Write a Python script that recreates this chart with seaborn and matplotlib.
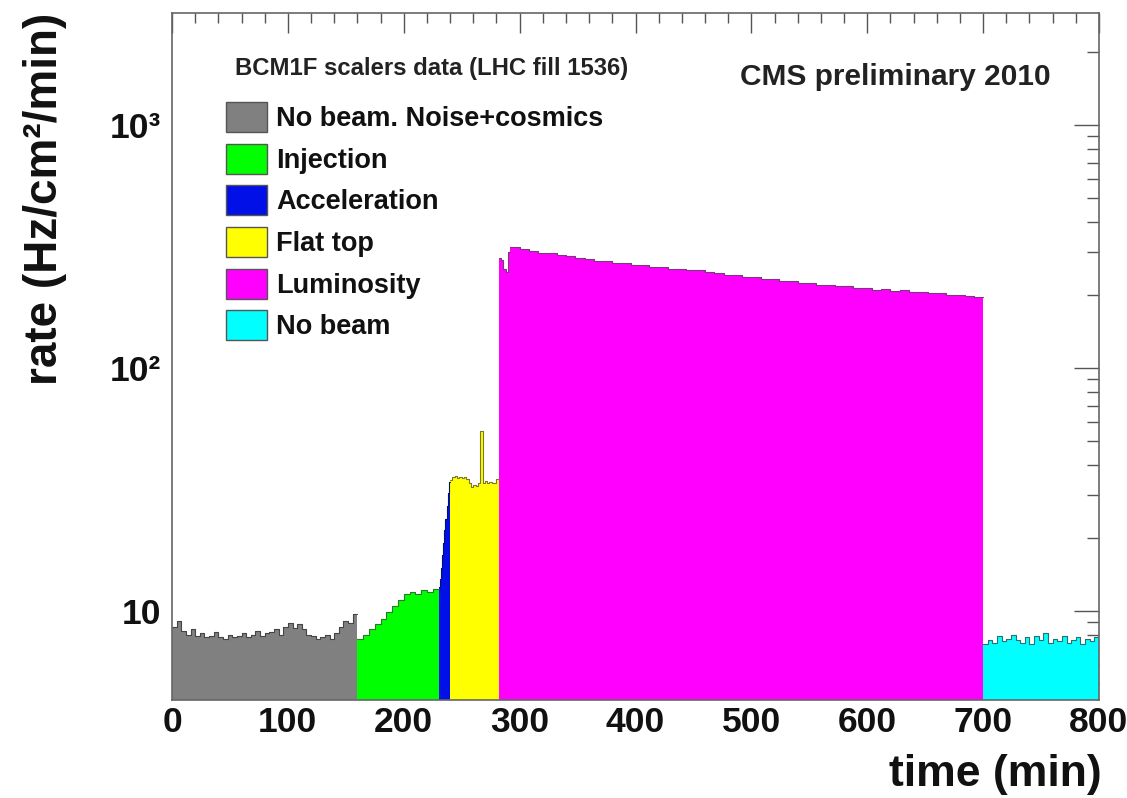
import numpy as np
import pandas as pd
import matplotlib
matplotlib.use("Agg")
import matplotlib.pyplot as plt
import seaborn as sns
from matplotlib.patches import Patch
from matplotlib.ticker import FixedLocator, FixedFormatter, NullFormatter, MultipleLocator, LogLocator

# ---------------- data (rates in Hz/cm^2/min, time in min) ----------------
phase_names = ["No beam. Noise+cosmics", "Injection", "Acceleration",
               "Flat top", "Luminosity", "No beam"]
phase_colors = ["#808080", "#00ff00", "#0010e6", "#ffff00", "#ff00ff", "#00ffff"]
phase_edge_colors = ["#454545", "#2a7a2a", "#00106e", "#7a7a2a", "#7a3a7a", "#2a7070"]

# No beam (noise + cosmics): 0-160 min, 4-min bins
noise_start, noise_width = 0, 4
noise_rate = [8.6, 9.1, 8.3, 8.0, 8.4, 7.9, 8.1, 7.8, 7.9, 8.2,
              7.8, 7.7, 8.0, 7.8, 7.9, 8.1, 7.8, 8.0, 8.3, 7.9,
              8.1, 8.2, 8.4, 8.0, 8.6, 8.9, 8.5, 8.8, 8.4, 8.0,
              7.9, 7.7, 7.8, 8.0, 7.7, 8.1, 8.6, 9.1, 8.9, 9.7]

# Injection: 160-230 min, 5-min bins
inj_start, inj_width = 160, 5
inj_rate = [7.7, 8.0, 8.4, 8.8, 9.3, 9.9, 10.5, 11.1, 11.7, 12.0,
            11.8, 12.2, 12.0, 12.3]

# Acceleration: 230-240 min, 1-min bins
acc_start, acc_width = 230, 1
acc_rate = [12.5, 13.5, 15.0, 17.0, 19.0, 21.5, 24.0, 27.0, 30.5, 34.0]

# Flat top: 240-282 min, 2-min bins
flat_start, flat_width = 240, 2
flat_rate = [34.5, 35.5, 35.8, 35.4, 35.6, 35.2, 35.6, 35.0, 33.5, 32.5,
             33.0, 32.8, 33.5, 55.0, 33.8, 34.2, 33.6, 34.0, 33.5, 33.8, 35.0]

# Luminosity: first part 282-292 min (2-min bins), then 292-700 min (8-min bins)
lumi_head_start, lumi_head_width = 282, 2
lumi_head_rate = [283, 280, 255, 248, 300]
lumi_start, lumi_width = 292, 8
lumi_rate = [316, 309, 305, 299, 297, 291, 289, 283, 282, 277,
             276, 271, 270, 265, 265, 260, 260, 256, 257, 253,
             253, 248, 247, 242, 242, 237, 237, 233, 232, 228,
             229, 224, 224, 220, 220, 217, 217, 213, 214, 210,
             211, 208, 209, 205, 206, 203, 203, 200, 201, 198, 197]

# No beam: 700-800 min, 4-min bins
nob_start, nob_width = 700, 4
nob_rate = [7.3, 7.6, 7.4, 7.9, 7.5, 7.7, 8.0, 7.6, 7.4, 7.8,
            7.3, 7.9, 7.6, 8.1, 7.4, 7.7, 7.5, 7.9, 7.4, 7.6,
            7.8, 7.3, 7.7, 7.5, 7.8]

x_ticks = [0, 100, 200, 300, 400, 500, 600, 700, 800]
y_ticks = [10, 100, 1000]
y_tick_labels = ["10", "10\u00b2", "10\u00b3"]

# segments: (phase index, start, bin width, rates)
segments = [
    (0, noise_start, noise_width, noise_rate),
    (1, inj_start, inj_width, inj_rate),
    (2, acc_start, acc_width, acc_rate),
    (3, flat_start, flat_width, flat_rate),
    (4, lumi_head_start, lumi_head_width, lumi_head_rate),
    (4, lumi_start, lumi_width, lumi_rate),
    (5, nob_start, nob_width, nob_rate),
]

# ---------------- figure ----------------
sns.set_theme(style="white")
plt.rcParams["font.family"] = ["Liberation Sans", "DejaVu Sans"]
plt.rcParams["font.weight"] = "bold"

fig = plt.figure(figsize=(11.27, 7.98), dpi=100)
ax = fig.add_axes([172 / 1127, 1 - 700 / 798, (1099 - 172) / 1127, (700 - 13) / 798])
ax.set_yscale("log")

for idx, start, width, rates in segments:
    n = len(rates)
    edges = start + width * np.arange(n + 1)
    centers = start + width * (np.arange(n) + 0.5)
    df = pd.DataFrame({"time": centers, "rate": np.asarray(rates, dtype=float)})
    sns.histplot(data=df, x="time", weights="rate", binwidth=width,
                 binrange=(start, start + width * n), element="step",
                 fill=True, color=phase_colors[idx], alpha=1.0, linewidth=0,
                 ax=ax, stat="count")
    sns.lineplot(x=list(edges), y=list(rates) + [rates[-1]], drawstyle="steps-post",
                 estimator=None, sort=False, color=phase_edge_colors[idx],
                 linewidth=0.8, ax=ax)

ax.set_xlim(0, 800)
ax.set_ylim(4.3, 2900)
ax.set_xlabel("")
ax.set_ylabel("")

# ticks, ROOT-like
ax.xaxis.set_major_locator(FixedLocator(x_ticks))
ax.xaxis.set_minor_locator(MultipleLocator(20))
ax.xaxis.set_major_formatter(FixedFormatter([str(t) for t in x_ticks]))
ax.yaxis.set_major_locator(FixedLocator(y_ticks))
ax.yaxis.set_major_formatter(FixedFormatter(y_tick_labels))
ax.yaxis.set_minor_locator(LogLocator(base=10, subs=np.arange(2, 10)))
ax.yaxis.set_minor_formatter(NullFormatter())
ax.tick_params(axis="both", which="both", direction="in", top=True, right=True,
               color="#555555", width=1.0)
ax.tick_params(axis="x", which="major", length=14.5, labelsize=25.5, pad=4)
ax.tick_params(axis="x", which="minor", length=7.2)
ax.tick_params(axis="y", which="major", length=18, labelsize=25.5, pad=8)
ax.tick_params(axis="y", which="minor", length=8.5)
for lab in ax.get_xticklabels() + ax.get_yticklabels():
    lab.set_fontweight("bold")
    lab.set_color("#111111")
for sp in ax.spines.values():
    sp.set_color("#666666")
    sp.set_linewidth(1.2)
ax.grid(False)

# axis titles
fig.text(1102 / 1127, 1 - 786 / 798, "time (min)", ha="right", va="baseline",
         fontsize=32, fontweight="bold", color="#111111")
fig.text(45 / 1127, 1 - 13 / 798, "rate (Hz/cm\u00b2/min)", ha="center", va="top",
         rotation=90, fontsize=33, fontweight="bold", color="#111111")

# legend
handles = [Patch(facecolor=c, edgecolor="#555555", linewidth=1.0) for c in phase_colors]
fs = 19.5
fs_px = fs * 100 / 72
leg = ax.legend(handles, phase_names, loc="upper left",
                bbox_to_anchor=(226 / 1127, 1 - 102 / 798), bbox_transform=fig.transFigure,
                frameon=False, borderpad=0, borderaxespad=0,
                handlelength=41 / fs_px, handleheight=1.326,
                handletextpad=0.33, labelspacing=0.43,
                prop={"size": fs, "weight": "bold"})
for t in leg.get_texts():
    t.set_color("#111111")

fig.text(235 / 1127, 1 - 75 / 798, "BCM1F scalers data (LHC fill 1536)",
         ha="left", va="baseline", fontsize=17.2, fontweight="bold", color="#222222")
fig.text(740 / 1127, 1 - 85 / 798, "CMS preliminary 2010",
         ha="left", va="baseline", fontsize=21.5, fontweight="bold", color="#222222")

fig.savefig("out.png", dpi=100)
